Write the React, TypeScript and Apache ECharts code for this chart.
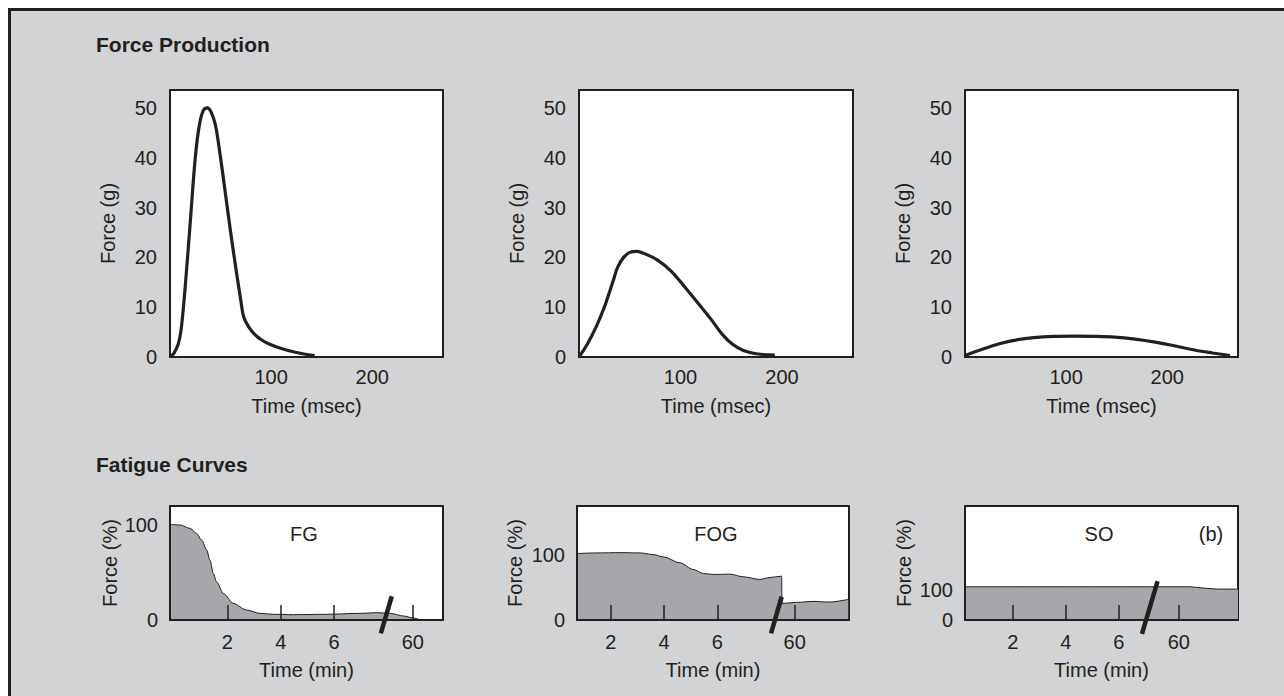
import React, { useEffect, useRef } from "react";
import * as echarts from "echarts";

const INK = "#231f20";
const BG = "#d1d3d4";
const FILL = "#a5a7aa";
const FONT = "'Liberation Sans', Arial, Helvetica, sans-serif";

// ---------- Force Production (time in msec, force in g) ----------
const fgTwitch: number[][] = [
  [0, 0], [4, 0.8], [8, 2.5], [11, 5.5], [15, 14], [20, 27], [25, 40], [29, 46.5],
  [33, 49.5], [37, 50], [41, 49], [45, 46.5], [50, 40], [55, 32.5], [60, 25], [65, 18],
  [70, 11.4], [73, 8], [78, 6], [83, 4.7], [90, 3.5], [97, 2.7], [107, 1.9], [117, 1.3],
  [130, 0.7], [143, 0.3],
];
const fogTwitch: number[][] = [
  [0, 0], [8, 2.5], [17, 6.1], [25, 10], [30, 13], [34, 15.5], [38, 18], [44, 20],
  [50, 21], [57, 21.2], [64, 20.8], [77, 19.5], [91, 17.2], [104, 14.1], [117, 10.9],
  [130, 7.6], [141, 4.6], [151, 2.6], [162, 1.3], [176, 0.6], [193, 0.4],
];
const soTwitch: number[][] = [
  [0, 0.3], [15, 1.4], [35, 2.7], [50, 3.4], [68, 3.9], [88, 4.15], [108, 4.2],
  [128, 4.15], [148, 4.0], [168, 3.6], [188, 3.0], [208, 2.2], [228, 1.35], [245, 0.8],
  [262, 0.3],
];
const twitchYTicks = [0, 10, 20, 30, 40, 50];
const twitchXTicks = [100, 200];

// ---------- Fatigue Curves (x = position on broken time axis, y = % force) ----------
const fgFatigue: number[][] = [
  [-0.15, 100.7], [0.225, 100], [0.6, 96.5], [0.85, 91], [1.04, 84], [1.22, 74], [1.35, 63],
  [1.47, 49], [1.6, 40], [1.85, 28], [2.22, 17.5], [2.72, 10.5], [3.22, 7], [3.72, 6],
  [4.47, 5.6], [5.72, 6], [6.97, 7], [7.6, 7.7], [8.1, 7], [8.6, 4.2], [8.97, 2.1], [9.16, 1],
];
const fogFatigue: number[][] = [
  [0.73, 102.6], [1.48, 103.6], [2.35, 104], [3.1, 103.6], [3.6, 101], [3.98, 97.4],
  [4.6, 88.2], [5.1, 78], [5.48, 71.8], [5.85, 70.3], [6.48, 70.8], [6.98, 66.7],
  [7.6, 62.6], [7.98, 65.6], [8.42, 67.7], [8.43, 25.6], [8.98, 27.2], [9.6, 28.7],
  [10.23, 27.7], [10.92, 31.8],
];
const soFatigue: number[][] = [
  [0.2, 111], [2, 111], [4, 111], [6, 111], [8.69, 111], [9.19, 106.7], [9.69, 103.3],
  [10.49, 103.3],
];
const fatigueTickLabels = ["2", "4", "6", "60"];
const fgTickPos = [2, 4, 6, 8.95];
const fogTickPos = [2, 4, 6, 8.91];
const soTickPos = [2, 4, 6, 8.26];
const fatigueYTicks = [0, 100];
const fgBreak: number[][] = [[7.75, -14], [8.16, 25]];
const fogBreak: number[][] = [[8.02, -20.5], [8.42, 35.9]];
const soBreak: number[][] = [[6.87, -46.7], [7.46, 130]];

const textStyle = { color: INK, fontSize: 20, fontFamily: FONT };

function buildOption() {
  const gridBox = [
    { left: 170, top: 90, width: 273, height: 267 },
    { left: 579, top: 90, width: 274, height: 267 },
    { left: 965, top: 90, width: 273, height: 267 },
    { left: 170, top: 506, width: 273, height: 114 },
    { left: 577, top: 506, width: 272, height: 114 },
    { left: 965, top: 506, width: 273, height: 114 },
  ];
  const grid = gridBox.map((g) => ({
    ...g,
    show: true,
    backgroundColor: "#ffffff",
    borderColor: INK,
    borderWidth: 2,
  }));

  const xAxis: any[] = [];
  const yAxis: any[] = [];
  const series: any[] = [];

  const twitch = [fgTwitch, fogTwitch, soTwitch];
  twitch.forEach((data, i) => {
    xAxis.push({
      gridIndex: i,
      type: "value",
      min: 0,
      max: 270,
      z: 5,
      axisLine: { show: true, onZero: false, lineStyle: { color: INK, width: 2 } },
      axisTick: { show: false },
      splitLine: { show: false },
      axisLabel: { ...textStyle, customValues: twitchXTicks, margin: 10 },
      name: "Time (msec)",
      nameLocation: "middle",
      nameGap: 39,
      nameTextStyle: textStyle,
    });
    yAxis.push({
      gridIndex: i,
      type: "value",
      min: 0,
      max: 53.6,
      z: 5,
      axisLine: { show: true, onZero: false, lineStyle: { color: INK, width: 2 } },
      axisTick: { show: false },
      splitLine: { show: false },
      axisLabel: { ...textStyle, customValues: twitchYTicks, margin: 13 },
      name: "Force (g)",
      nameLocation: "middle",
      nameGap: 52,
      nameTextStyle: textStyle,
    });
    series.push({
      type: "line",
      xAxisIndex: i,
      yAxisIndex: i,
      data,
      smooth: 0.35,
      symbol: "none",
      lineStyle: { color: INK, width: 3.2 },
      silent: true,
    });
  });

  const fatigue = [
    { data: fgFatigue, ticks: fgTickPos, min: -0.15, max: 10.08, yMax: 120, brk: fgBreak, gap: 50 },
    { data: fogFatigue, ticks: fogTickPos, min: 0.73, max: 10.95, yMax: 176, brk: fogBreak, gap: 52 },
    { data: soFatigue, ticks: soTickPos, min: 0.2, max: 10.49, yMax: 381, brk: soBreak, gap: 51 },
  ];
  fatigue.forEach((p, k) => {
    const i = k + 3;
    xAxis.push({
      gridIndex: i,
      type: "value",
      min: p.min,
      max: p.max,
      z: 5,
      axisLine: { show: true, onZero: false, lineStyle: { color: INK, width: 2 } },
      axisTick: {
        show: true,
        inside: true,
        length: 15,
        customValues: p.ticks,
        lineStyle: { color: INK, width: 1.5 },
      },
      splitLine: { show: false },
      axisLabel: {
        ...textStyle,
        customValues: p.ticks,
        margin: 12,
        formatter: (v: number) => {
          const idx = p.ticks.findIndex((t) => Math.abs(t - v) < 1e-6);
          return idx >= 0 ? fatigueTickLabels[idx] : "";
        },
      },
      name: "Time (min)",
      nameLocation: "middle",
      nameGap: 40,
      nameTextStyle: textStyle,
    });
    yAxis.push({
      gridIndex: i,
      type: "value",
      min: 0,
      max: p.yMax,
      z: 5,
      axisLine: { show: true, onZero: false, lineStyle: { color: INK, width: 2 } },
      axisTick: { show: false },
      splitLine: { show: false },
      axisLabel: { ...textStyle, customValues: fatigueYTicks, margin: 12 },
      name: "Force (%)",
      nameLocation: "middle",
      nameGap: p.gap,
      nameTextStyle: textStyle,
    });
    series.push({
      type: "line",
      xAxisIndex: i,
      yAxisIndex: i,
      data: p.data,
      smooth: 0.3,
      smoothMonotone: "x",
      symbol: "none",
      lineStyle: { color: INK, width: 1 },
      areaStyle: { color: FILL, opacity: 1 },
      silent: true,
    });
    series.push({
      type: "line",
      xAxisIndex: i,
      yAxisIndex: i,
      data: p.brk,
      symbol: "none",
      clip: false,
      z: 6,
      lineStyle: { color: INK, width: 4.5 },
      silent: true,
    });
  });

  const graphic = [
    { type: "text", left: 96, top: 34, style: { text: "Force Production", font: `bold 21px ${FONT}`, fill: INK } },
    { type: "text", left: 96, top: 454, style: { text: "Fatigue Curves", font: `bold 21px ${FONT}`, fill: INK } },
    { type: "text", x: 304, y: 534, style: { text: "FG", font: `20px ${FONT}`, fill: INK, align: "center", verticalAlign: "middle" }, z: 10 },
    { type: "text", x: 716, y: 534, style: { text: "FOG", font: `20px ${FONT}`, fill: INK, align: "center", verticalAlign: "middle" }, z: 10 },
    { type: "text", x: 1099, y: 534, style: { text: "SO", font: `20px ${FONT}`, fill: INK, align: "center", verticalAlign: "middle" }, z: 10 },
    { type: "text", x: 1211, y: 534, style: { text: "(b)", font: `20px ${FONT}`, fill: INK, align: "center", verticalAlign: "middle" }, z: 10 },
  ];

  return {
    animation: false,
    backgroundColor: "transparent",
    textStyle: { fontFamily: FONT },
    grid,
    xAxis,
    yAxis,
    series,
    graphic,
  };
}

export default function App() {
  const ref = useRef<HTMLDivElement>(null);
  useEffect(() => {
    if (!ref.current) return;
    const chart = echarts.init(ref.current, null, { renderer: "svg" });
    chart.setOption(buildOption() as any);
    return () => chart.dispose();
  }, []);
  return (
    <div
      style={{
        position: "fixed",
        left: 0,
        top: 0,
        width: 1284,
        height: 696,
        background: "#ffffff",
        overflow: "hidden",
      }}
    >
      <div
        style={{
          position: "absolute",
          left: 8,
          top: 8,
          width: 1300,
          height: 720,
          background: BG,
          borderLeft: `3px solid ${INK}`,
          borderTop: `3px solid ${INK}`,
          boxSizing: "border-box",
        }}
      />
      <div ref={ref} style={{ position: "absolute", left: 0, top: 0, width: 1284, height: 696 }} />
    </div>
  );
}
